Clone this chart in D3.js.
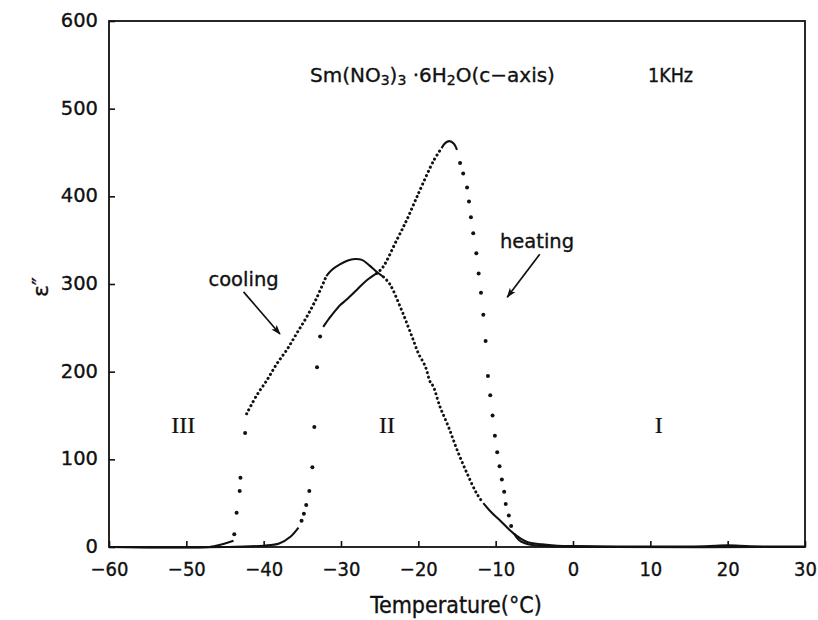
<!DOCTYPE html>
<html>
<head>
<meta charset="utf-8">
<script src="https://cdn.jsdelivr.net/npm/d3@7"></script>
<style>
  body { margin: 0; background: #fff; }
  svg { display: block; }
  text { fill: #111; stroke: #111; stroke-width: 0.35px; }
</style>
</head>
<body>
<div id="chart"></div>
<script>
var width = 818, height = 620;
var margin = { top: 21, left: 109, right: 13, bottom: 73 };

// axis ticks
const xTicks = [-60, -50, -40, -30, -20, -10, 0, 10, 20, 30];
const yTicks = [0, 100, 200, 300, 400, 500, 600];

// heating run (low T -> high T), [temperature, eps'']
const heatBase = [[-60, 0], [-45, 0], [-40, 1.5], [-38, 4], [-36.5, 12], [-35.5, 22]];
const heatRiseDots = [[-35.1, 30], [-34.8, 38], [-34.5, 48], [-34.1, 64], [-33.7, 91], [-33.45, 137], [-33.1, 205], [-32.7, 240]];
const heatMid = [[-32.3, 251], [-31.5, 261], [-30.6, 271], [-30.1, 276], [-29.3, 282], [-28, 293], [-26.7, 304], [-25.4, 312]];
const heatUpper = [[-25.4, 312], [-24.6, 319], [-22.8, 350], [-21.5, 373], [-20.5, 393], [-19.8, 407], [-18.0, 441], [-17.0, 455]];
const heatPeak = [[-17.0, 455], [-16.5, 461], [-16.0, 463], [-15.4, 460], [-15.0, 453]];
const heatFallDots = [[-14.6, 438], [-14.2, 426], [-13.7, 410], [-13.45, 394], [-13.2, 376], [-12.9, 358], [-12.5, 335],
  [-12.2, 312], [-11.9, 290], [-11.6, 265], [-11.3, 235], [-11.0, 195], [-10.7, 173], [-10.4, 150], [-10.1, 127],
  [-9.8, 108], [-9.5, 92], [-9.2, 77], [-8.9, 63], [-8.7, 49], [-8.3, 36], [-8.0, 24]];
const heatTail = [[-7.6, 15], [-7.0, 8], [-6.3, 4.5], [-5.5, 2.5], [-3, 1], [5, 0], [30, 0]];

// cooling run
const coolBase = [[-60, 0], [-47, 0], [-46.3, 1], [-45.6, 2.5], [-44.6, 5], [-43.9, 7]];
const coolDropDots = [[-43.8, 14.5], [-43.5, 39], [-43.1, 64], [-43.0, 79], [-42.4, 130]];
const coolLeft = [[-42.2, 152], [-40.9, 173], [-39.6, 190], [-38.3, 209], [-37.0, 225], [-35.7, 244], [-34.4, 263], [-33.1, 285], [-31.9, 309]];
const coolArc = [[-31.9, 309], [-31.2, 316], [-30.2, 322], [-29.2, 326.5], [-28.2, 328.5], [-27.3, 327.5], [-26.3, 321], [-25.4, 314], [-24.5, 308]];
const coolMid = [[-24.5, 308], [-23.7, 300], [-22.15, 270], [-21.3, 251], [-20.65, 236], [-20.0, 221], [-19.1, 206], [-18.5, 189],
  [-18.06, 183], [-17.2, 160], [-16.1, 137], [-15.0, 111], [-13.7, 84], [-12.45, 61], [-11.6, 50]];
const coolLow = [[-11.6, 50], [-10.5, 39], [-9.4, 30], [-7.7, 15.6], [-6.0, 6], [-4, 3], [-2, 1.5], [0, 1], [10, 0.5],
  [17, 0.8], [20, 2], [23, 0.8], [30, 0.5]];

// text annotations
const phases = [{ t: -50.4, e: 130, label: "III" }, { t: -24.05, e: 130, label: "II" }, { t: 11.1, e: 130, label: "I" }];
const notes = [
  { label: "cooling", t: -42.6, e: 298, from: [-42.6, 291], to: [-37.9, 243] },
  { label: "heating", t: -4.65, e: 341, from: [-4.3, 334], to: [-8.5, 285] }
];

var svg = d3.select("#chart").append("svg")
  .attr("width", width).attr("height", height);

const x = d3.scaleLinear().domain([-60, 30]).range([margin.left, width - margin.right]);
const y = d3.scaleLinear().domain([0, 600]).range([height - margin.bottom, margin.top]);

svg.append("defs").append("marker")
  .attr("id", "head")
  .attr("viewBox", "0 0 10 10")
  .attr("refX", 9).attr("refY", 5)
  .attr("markerWidth", 10).attr("markerHeight", 10)
  .attr("markerUnits", "userSpaceOnUse")
  .attr("orient", "auto")
  .append("path")
  .attr("d", "M0,1.5 L10,5 L0,8.5 L2.5,5 Z")
  .attr("fill", "#111");

// frame
svg.append("rect")
  .attr("x", x(-60)).attr("y", y(600))
  .attr("width", x(30) - x(-60)).attr("height", y(0) - y(600))
  .attr("fill", "none").attr("stroke", "#111").attr("stroke-width", 1.8);

// axes
const xAxis = svg.append("g")
  .attr("transform", "translate(0," + y(0) + ")")
  .call(d3.axisBottom(x).tickValues(xTicks).tickSizeInner(-6).tickSizeOuter(0).tickPadding(15)
    .tickFormat(d => d < 0 ? "\u2212" + Math.abs(d) : d));
xAxis.select(".domain").remove();
xAxis.selectAll("line").attr("stroke", "#111").attr("stroke-width", 1.6);
xAxis.selectAll("text").attr("font-family", "DejaVu Sans Condensed, DejaVu Sans").attr("font-size", 20);

const yAxis = svg.append("g")
  .attr("transform", "translate(" + x(-60) + ",0)")
  .call(d3.axisLeft(y).tickValues(yTicks).tickSizeInner(-6).tickSizeOuter(0).tickPadding(11));
yAxis.select(".domain").remove();
yAxis.selectAll("line").attr("stroke", "#111").attr("stroke-width", 1.6);
yAxis.selectAll("text").attr("font-family", "DejaVu Sans").attr("font-size", 19.5).attr("dy", "0.28em");

// curves
const lineY = d3.line().x(d => x(d[0])).y(d => y(d[1])).curve(d3.curveCatmullRom);

[heatBase, heatMid, heatPeak, heatTail, coolBase, coolArc, coolLow].forEach(seg => {
  svg.append("path").datum(seg)
    .attr("d", lineY)
    .attr("fill", "none").attr("stroke", "#111").attr("stroke-width", 2.1);
});

[heatUpper, coolLeft, coolMid].forEach(seg => {
  svg.append("path").datum(seg)
    .attr("d", lineY)
    .attr("fill", "none").attr("stroke", "#111").attr("stroke-width", 3)
    .attr("stroke-linecap", "round").attr("stroke-dasharray", "0.1,4.5");
});

[heatRiseDots, heatFallDots, coolDropDots].forEach(seg => {
  svg.append("g").selectAll("circle").data(seg).join("circle")
    .attr("cx", d => x(d[0])).attr("cy", d => y(d[1])).attr("r", 2).attr("fill", "#111");
});

// phase labels
svg.selectAll(".phase").data(phases).join("text")
  .attr("class", "phase")
  .attr("x", d => x(d.t)).attr("y", d => y(d.e))
  .attr("text-anchor", "middle")
  .attr("font-family", "Liberation Serif").attr("font-size", 24)
  .style("stroke-width", "0.2px")
  .text(d => d.label);

// cooling / heating notes with arrows
notes.forEach(n => {
  svg.append("text")
    .attr("x", x(n.t)).attr("y", y(n.e))
    .attr("text-anchor", "middle")
    .attr("font-family", "DejaVu Sans").attr("font-size", 19.5)
    .text(n.label);
  svg.append("line")
    .attr("x1", x(n.from[0])).attr("y1", y(n.from[1]))
    .attr("x2", x(n.to[0])).attr("y2", y(n.to[1]))
    .attr("stroke", "#111").attr("stroke-width", 1.7)
    .attr("marker-end", "url(#head)");
});

// title
const title = svg.append("text")
  .attr("x", 310).attr("y", 82)
  .attr("font-family", "DejaVu Sans").attr("font-size", 20);
title.append("tspan").text("Sm(NO");
title.append("tspan").attr("font-size", 14).attr("dy", 3).text("3");
title.append("tspan").attr("dy", -3).text(")");
title.append("tspan").attr("font-size", 14).attr("dy", 3).text("3");
title.append("tspan").attr("dy", -3).text(" \u00b76H");
title.append("tspan").attr("font-size", 14).attr("dy", 3).text("2");
title.append("tspan").attr("dy", -3).text("O(c\u2212axis)");

svg.append("text")
  .attr("x", 648).attr("y", 82)
  .attr("font-family", "DejaVu Sans Condensed, DejaVu Sans").attr("font-size", 19.5)
  .text("1KHz");

// axis titles
svg.append("text")
  .attr("x", 456).attr("y", 613)
  .attr("text-anchor", "middle")
  .attr("font-family", "DejaVu Sans Condensed, DejaVu Sans").attr("font-size", 23)
  .text("Temperature(\u00b0C)");

svg.append("text")
  .attr("transform", "translate(48,287) rotate(-90)")
  .attr("text-anchor", "middle")
  .attr("font-family", "DejaVu Sans").attr("font-size", 22)
  .text("\u03b5\u2033");
</script>
</body>
</html>
